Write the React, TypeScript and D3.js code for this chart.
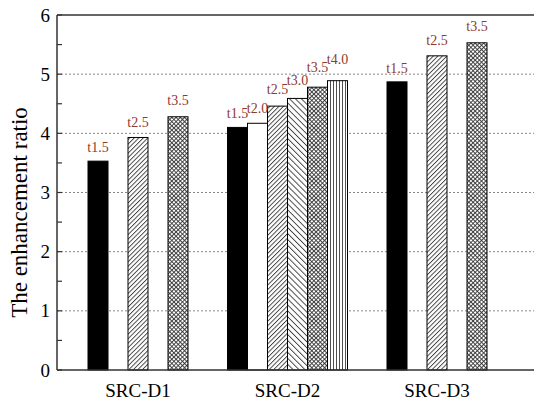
import { useEffect, useRef } from "react";
import * as d3 from "d3";

const groups = ["SRC-D1", "SRC-D2", "SRC-D3"];

const d1Labels = ["t1.5", "t2.5", "t3.5"];
const d1Values = [3.53, 3.93, 4.28];

const d2Labels = ["t1.5", "t2.0", "t2.5", "t3.0", "t3.5", "t4.0"];
const d2Values = [4.1, 4.17, 4.46, 4.59, 4.78, 4.89];

const d3Labels = ["t1.5", "t2.5", "t3.5"];
const d3Values = [4.87, 5.31, 5.53];

const yTicks = [0, 1, 2, 3, 4, 5, 6];

const FONT = "'Liberation Serif', 'Times New Roman', Times, serif";

// fill for each heating time
const fillFor: Record<string, string> = {
    "t1.5": "#000",
    "t2.0": "#fff",
    "t2.5": "url(#hatchFwd)",
    "t3.0": "url(#hatchBack)",
    "t3.5": "url(#hatchCross)",
    "t4.0": "url(#hatchVert)",
};

function App() {
    const svgRef = useRef<SVGSVGElement | null>(null);

    useEffect(() => {
        if (!svgRef.current) return;

        const width = 534;
        const height = 404;
        const left = 57;
        const top = 15;
        const bottom = 370;
        const right = 600; // frame runs off the picture

        const svg = d3.select(svgRef.current).attr("width", width).attr("height", height);
        svg.selectAll("*").remove();

        const defs = svg.append("defs");
        const addHatch = (id: string, size: number, angle: number, sw: number) => {
            const p = defs
                .append("pattern")
                .attr("id", id)
                .attr("patternUnits", "userSpaceOnUse")
                .attr("width", size)
                .attr("height", size)
                .attr("patternTransform", `rotate(${angle})`);
            p.append("rect").attr("width", size).attr("height", size).attr("fill", "#fff");
            p.append("line")
                .attr("x1", 0.5)
                .attr("x2", 0.5)
                .attr("y1", 0)
                .attr("y2", size)
                .attr("stroke", "#222")
                .attr("stroke-width", sw);
        };
        addHatch("hatchFwd", 3.2, 45, 0.8);
        addHatch("hatchBack", 4.2, -45, 0.8);
        addHatch("hatchVert", 3, 0, 0.8);
        const cross = defs
            .append("pattern")
            .attr("id", "hatchCross")
            .attr("patternUnits", "userSpaceOnUse")
            .attr("width", 3)
            .attr("height", 3)
            .attr("patternTransform", "rotate(45)");
        cross.append("rect").attr("width", 3).attr("height", 3).attr("fill", "#fff");
        cross.append("line").attr("x1", 0.5).attr("x2", 0.5).attr("y1", 0).attr("y2", 3).attr("stroke", "#333").attr("stroke-width", 0.9);
        cross.append("line").attr("x1", 0).attr("x2", 3).attr("y1", 0.5).attr("y2", 0.5).attr("stroke", "#333").attr("stroke-width", 0.9);

        const y = d3.scaleLinear().domain([0, 6]).range([bottom, top]);
        const x = d3.scalePoint<string>().domain(groups).range([138, 437]);

        // grid
        svg.append("g")
            .selectAll("line")
            .data(yTicks.filter((t) => t > 0 && t < 6))
            .join("line")
            .attr("x1", left)
            .attr("x2", right)
            .attr("y1", (d) => y(d))
            .attr("y2", (d) => y(d))
            .attr("stroke", "#888")
            .attr("stroke-width", 1)
            .attr("stroke-dasharray", "2,2");

        const seriesData = [
            { labels: d1Labels, values: d1Values, span: 100, pad: 0.5 },
            { labels: d2Labels, values: d2Values, span: 120, pad: 0 },
            { labels: d3Labels, values: d3Values, span: 100, pad: 0.5 },
        ];

        seriesData.forEach((s, gi) => {
            const cx = x(groups[gi])!;
            const inner = d3
                .scaleBand<string>()
                .domain(s.labels)
                .range([cx - s.span / 2, cx + s.span / 2])
                .paddingInner(s.pad);
            const rows = s.labels.map((l, i) => ({ label: l, value: s.values[i], i }));
            const g = svg.append("g");
            g.selectAll("rect")
                .data(rows)
                .join("rect")
                .attr("x", (d) => inner(d.label)!)
                .attr("y", (d) => y(d.value))
                .attr("width", inner.bandwidth())
                .attr("height", (d) => bottom - y(d.value))
                .attr("fill", (d) => fillFor[d.label])
                .attr("stroke", "#000")
                .attr("stroke-width", 1);
            g.selectAll("text")
                .data(rows)
                .join("text")
                .attr("x", (d) => inner(d.label)! + inner.bandwidth() / 2)
                .attr("y", (d) => y(d.value) - 9 - 1.5 * d.i)
                .attr("text-anchor", "middle")
                .style("font-family", FONT)
                .style("font-size", "14px")
                .attr("fill", "#8e3a2c")
                .text((d) => d.label);
        });

        // frame
        const frame = svg.append("g").attr("stroke", "#333").attr("stroke-width", 1.5);
        frame.append("line").attr("x1", left).attr("x2", right).attr("y1", top).attr("y2", top);
        frame.append("line").attr("x1", left).attr("x2", right).attr("y1", bottom).attr("y2", bottom);
        frame.append("line").attr("x1", left).attr("x2", left).attr("y1", top).attr("y2", bottom);

        // inward ticks, major and minor
        svg.append("g")
            .selectAll("line")
            .data(d3.range(0, 6.01, 0.5))
            .join("line")
            .attr("x1", left)
            .attr("x2", left + 5)
            .attr("y1", (d) => y(d))
            .attr("y2", (d) => y(d))
            .attr("stroke", "#333")
            .attr("stroke-width", 1.2);

        svg.append("g")
            .selectAll("text")
            .data(yTicks)
            .join("text")
            .attr("x", left - 7)
            .attr("y", (d) => y(d) + 6.5)
            .attr("text-anchor", "end")
            .style("font-family", FONT)
            .style("font-size", "19px")
            .text((d) => d);

        svg.append("g")
            .selectAll("text")
            .data(groups)
            .join("text")
            .attr("x", (d) => x(d)!)
            .attr("y", 397)
            .attr("text-anchor", "middle")
            .style("font-family", FONT)
            .style("font-size", "19px")
            .text((d) => d);

        svg.append("text")
            .attr("transform", `translate(27,${(top + bottom) / 2 + 20}) rotate(-90)`)
            .attr("text-anchor", "middle")
            .style("font-family", FONT)
            .style("font-size", "23px")
            .text("The enhancement ratio");
    }, []);

    return (
        <div style={{ position: "absolute", left: 0, top: 0 }}>
            <svg ref={svgRef} style={{ display: "block", background: "#fff" }}></svg>
        </div>
    );
}

export default App;
